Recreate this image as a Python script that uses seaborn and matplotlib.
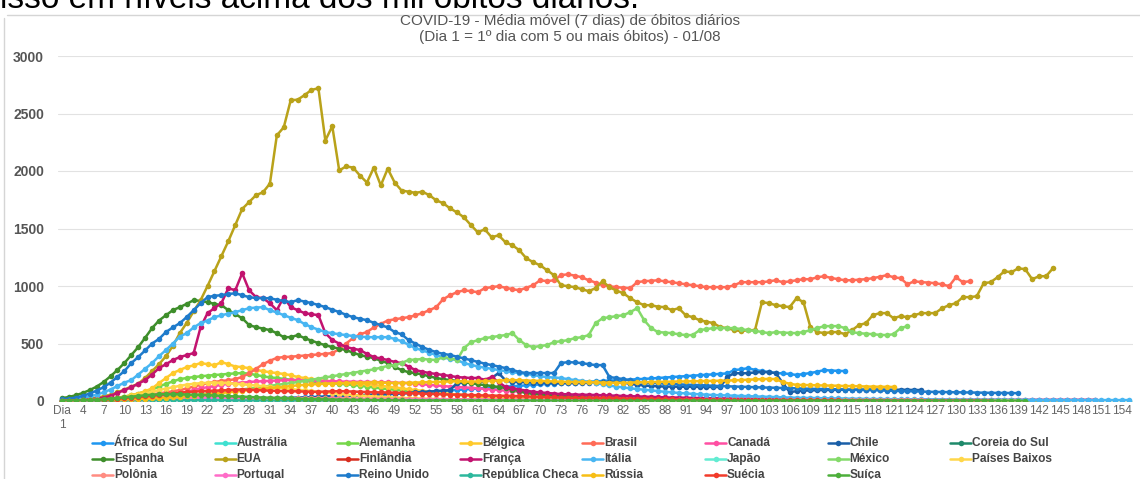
import pandas as pd
import matplotlib.pyplot as plt
import seaborn as sns
from matplotlib.lines import Line2D

# Dados (média móvel 7 dias de óbitos, por dia desde o 1º dia com 5+ óbitos)
paises = ['África do Sul', 'Austrália', 'Alemanha', 'Bélgica', 'Brasil', 'Canadá', 'Chile', 'Coreia do Sul',
          'Espanha', 'EUA', 'Finlândia', 'França', 'Itália', 'Japão', 'México', 'Países Baixos',
          'Polônia', 'Portugal', 'Reino Unido', 'República Checa', 'Rússia', 'Suécia', 'Suíça']

cores = ['#1E96F0', '#3FE0D0', '#76D74B', '#FFCA2C', '#FF6B57', '#FF4FA3', '#1A5FA8', '#1F8A6B',
         '#3E8E2B', '#B9A21A', '#D82D1F', '#C2136F', '#48B6F2', '#63ECD2', '#84DA6A', '#FFD74A',
         '#FF8C82', '#FF6CC8', '#1E7BCB', '#2DB89D', '#F7BE16', '#F23B2B', '#4DAF3B']

africa_do_sul = [2, 2, 3, 3, 3, 4, 4, 5, 5, 6,
                 6, 7, 7, 8, 9, 9, 10, 11, 12, 12,
                 13, 14, 15, 16, 17, 18, 19, 20, 21, 22,
                 24, 25, 27, 28, 30, 32, 34, 36, 38, 40,
                 42, 45, 47, 50, 52, 55, 58, 60, 63, 66,
                 70, 73, 76, 80, 84, 88, 92, 96, 100, 104,
                 108, 112, 116, 120, 124, 128, 132, 136, 140, 144,
                 148, 150, 154, 158, 160, 164, 168, 170, 174, 178,
                 180, 184, 186, 190, 192, 196, 200, 204, 208, 212,
                 216, 220, 224, 228, 232, 236, 240, 269, 275, 286,
                 270, 260, 252, 243, 240, 235, 226, 235, 243, 255,
                 269, 265, 262, 260]

australia = [1, 1, 1, 1, 2, 2, 2, 2, 2, 3,
             3, 3, 3, 4, 4, 4, 4, 4, 3, 3,
             3, 3, 3, 2, 2, 2, 2, 2, 2, 1,
             1, 1, 1, 1, 1, 1, 1, 1, 1, 1,
             1, 1, 1, 1, 1, 0, 0, 0, 0, 0,
             0, 0, 0, 0, 0, 0, 0, 0, 0, 0,
             0, 0, 0, 0, 0, 0, 0, 0, 0, 0,
             0, 0, 0, 0, 0, 0, 0, 0, 0, 0,
             0, 0, 0, 0, 0, 0, 0, 0, 0, 0,
             1, 1, 1, 1, 1, 1, 1, 1, 1, 1,
             1, 1, 2, 2, 2, 2, 3, 3, 3, 4,
             4, 5, 5, 6, 6, 7, 7, 8, 8, 9,
             9, 10, 10, 11, 11]

alemanha = [3, 4, 5, 6, 8, 10, 14, 20, 28, 38,
            50, 65, 82, 100, 125, 150, 170, 190, 200, 208,
            215, 220, 226, 230, 236, 240, 243, 238, 226, 215,
            205, 200, 192, 186, 182, 175, 170, 165, 160, 155,
            150, 145, 140, 132, 125, 118, 110, 104, 98, 92,
            86, 80, 75, 70, 66, 62, 58, 54, 50, 46,
            42, 40, 38, 36, 34, 32, 30, 28, 26, 24,
            22, 21, 20, 19, 18, 17, 16, 15, 14, 13,
            12, 12, 11, 11, 10, 10, 9, 9, 8, 8,
            8, 7, 7, 7, 6, 6, 6, 6, 5, 5,
            5, 5, 5, 5, 4, 4, 4, 4, 4, 4,
            4, 4, 4, 4, 4, 3, 3, 3, 3, 3,
            3, 3, 3, 3, 3, 3, 3, 3, 3, 3,
            3, 3, 3, 3, 3, 3, 3, 3, 3, 3,
            3, 3, 3]

belgica = [2, 3, 4, 5, 7, 10, 14, 20, 28, 38,
           50, 65, 85, 110, 156, 200, 243, 270, 295, 310,
           330, 320, 310, 338, 320, 300, 295, 285, 269, 260,
           250, 243, 235, 225, 208, 200, 190, 182, 175, 170,
           165, 160, 156, 150, 145, 140, 132, 125, 118, 110,
           102, 95, 88, 80, 74, 68, 62, 56, 50, 45,
           40, 36, 32, 29, 26, 24, 22, 20, 18, 16,
           15, 14, 13, 12, 11, 10, 9, 9, 8, 8,
           7, 7, 6, 6, 6, 5, 5, 5, 5, 4,
           4, 4, 4, 4, 4, 4, 4, 4, 4, 4,
           4, 4, 4, 4, 4, 4, 4, 4, 4, 4,
           3, 3, 3, 3, 3, 3, 3, 3, 3, 3,
           3, 3, 3, 3, 3, 3, 3, 3, 3, 3,
           3, 3, 3, 3, 3, 3, 3, 3, 3, 3]

brasil = [3, 4, 6, 8, 10, 13, 16, 20, 25, 30,
          36, 42, 50, 58, 66, 75, 85, 95, 110, 125,
          140, 155, 165, 175, 180, 190, 210, 240, 280, 320,
          350, 375, 382, 385, 390, 395, 400, 405, 410, 417,
          450, 500, 547, 580, 600, 640, 670, 700, 710, 720,
          729, 745, 764, 790, 816, 885, 920, 946, 963, 955,
          946, 981, 990, 998, 985, 972, 963, 985, 1007, 1050,
          1042, 1050, 1094, 1102, 1090, 1076, 1050, 1030, 1007, 998,
          990, 985, 981, 1033, 1042, 1045, 1050, 1040, 1033, 1024,
          1015, 1007, 998, 990, 990, 990, 990, 1007, 1033, 1033,
          1033, 1033, 1040, 1050, 1033, 1040, 1050, 1059, 1059, 1076,
          1085, 1070, 1059, 1050, 1050, 1055, 1059, 1068, 1080, 1094,
          1076, 1068, 1015, 1042, 1033, 1030, 1024, 1015, 998, 1076,
          1033, 1042]

canada = [2, 3, 4, 5, 6, 8, 10, 12, 15, 18,
          22, 26, 30, 35, 42, 50, 60, 70, 80, 95,
          110, 120, 130, 140, 150, 156, 160, 165, 170, 172,
          175, 178, 180, 182, 180, 178, 176, 175, 174, 172,
          170, 168, 168, 166, 165, 165, 163, 162, 160, 158,
          155, 150, 145, 140, 135, 130, 125, 122, 118, 115,
          110, 105, 100, 95, 90, 85, 80, 76, 72, 68,
          64, 60, 56, 52, 48, 45, 42, 40, 37, 35,
          32, 30, 28, 26, 24, 22, 20, 18, 17, 16,
          15, 14, 13, 12, 12, 11, 10, 10, 9, 9,
          8, 8, 8, 7, 7, 7, 6, 6, 6, 6,
          6, 5, 5, 5, 5, 5, 5, 5, 4, 4,
          4, 4, 4, 4, 4, 4, 4, 4, 4, 4,
          4, 4]

chile = [1, 1, 2, 2, 2, 3, 3, 3, 4, 4,
         5, 5, 6, 6, 7, 7, 8, 8, 9, 10,
         10, 11, 12, 12, 13, 14, 15, 16, 17, 18,
         20, 22, 24, 26, 28, 30, 32, 35, 38, 40,
         42, 45, 48, 50, 52, 55, 58, 60, 63, 66,
         70, 74, 78, 82, 86, 90, 95, 156, 158, 160,
         165, 170, 200, 243, 180, 165, 165, 162, 160, 160,
         158, 158, 156, 155, 155, 156, 158, 160, 162, 165,
         165, 160, 150, 140, 135, 130, 128, 125, 125, 124,
         124, 123, 123, 122, 122, 121, 208, 243, 240, 243,
         248, 252, 250, 243, 156, 78, 85, 90, 92, 94,
         95, 96, 97, 98, 98, 99, 100, 100, 100, 99,
         98, 98, 97, 96, 95]

coreia_do_sul = [1, 1, 2, 2, 3, 3, 4, 4, 5, 5,
                 5, 6, 6, 6, 6, 7, 7, 6, 6, 6,
                 5, 5, 5, 5, 5, 4, 4, 4, 4, 4,
                 4, 4, 4, 4, 4, 3, 3, 3, 3, 3,
                 3, 3, 3, 3, 3, 2, 2, 2, 2, 2,
                 2, 2, 2, 2, 2, 2, 2, 1, 1, 1,
                 1, 1, 1, 1, 1, 1, 1, 1, 1, 1,
                 1, 1, 1, 1, 1, 1, 1, 1, 1, 1,
                 1, 1, 1, 1, 1, 1, 1, 1, 1, 1,
                 1, 1, 1, 1, 1, 1, 1, 1, 1, 1,
                 1, 1, 1, 1, 1, 1, 1, 1, 1, 1,
                 1, 1, 1, 1, 1, 1, 1, 1, 1, 1,
                 1, 1, 1, 1, 1, 1, 1, 1, 1, 1,
                 1, 1, 1, 1, 1, 1, 1, 1, 1, 1,
                 1, 1, 1, 2, 2, 2, 3, 3, 2, 2,
                 1, 1, 1, 1, 1]

espanha = [25, 35, 50, 70, 95, 125, 165, 215, 270, 330,
           400, 469, 550, 634, 700, 746, 790, 816, 845, 877,
           870, 859, 845, 833, 790, 755, 720, 660, 642, 630,
           616, 590, 555, 555, 573, 547, 525, 503, 485, 469,
           455, 443, 420, 400, 385, 373, 350, 330, 295, 270,
           250, 243, 230, 215, 200, 190, 182, 175, 165, 155,
           145, 139, 130, 122, 113, 100, 85, 69, 62, 57,
           52, 48, 44, 40, 36, 32, 28, 25, 22, 20,
           18, 16, 14, 12, 10, 9, 8, 7, 6, 5,
           5, 4, 4, 4, 3, 3, 3, 3, 3, 3,
           3, 3, 3, 4, 4, 4, 5, 5, 5, 4,
           4, 4, 3, 3, 3, 3, 3, 3, 3, 3,
           3, 3, 3, 3, 3, 3, 3, 3, 3, 3,
           3, 3, 3, 3, 3, 3, 3, 3, 3, 3,
           3, 3, 3, 3, 3, 3]

eua = [8, 10, 13, 17, 22, 30, 40, 55, 75, 100,
       125, 150, 200, 260, 320, 390, 480, 590, 680, 780,
       877, 1000, 1130, 1260, 1390, 1530, 1670, 1730, 1790, 1815,
       1890, 2310, 2380, 2615, 2620, 2660, 2705, 2720, 2265, 2390,
       2005, 2040, 2030, 1960, 1900, 2030, 1875, 2020, 1900, 1830,
       1820, 1810, 1820, 1790, 1745, 1720, 1675, 1640, 1597, 1530,
       1467, 1493, 1424, 1441, 1380, 1354, 1311, 1241, 1207, 1180,
       1137, 1094, 1007, 998, 990, 972, 955, 981, 1042, 990,
       960, 937, 894, 859, 833, 833, 820, 816, 790, 807,
       746, 729, 703, 690, 677, 642, 634, 616, 608, 616,
       616, 859, 851, 833, 825, 816, 894, 859, 642, 600,
       590, 599, 599, 581, 616, 660, 677, 746, 764, 764,
       720, 738, 729, 746, 764, 764, 764, 807, 833, 851,
       903, 903, 911, 1024, 1033, 1076, 1128, 1120, 1154, 1146,
       1059, 1085, 1085, 1154]

finlandia = [1, 1, 1, 2, 2, 2, 2, 3, 3, 3,
             3, 4, 4, 4, 5, 5, 5, 6, 6, 6,
             6, 7, 7, 7, 6, 6, 6, 5, 5, 5,
             5, 4, 4, 4, 4, 3, 3, 3, 3, 3,
             2, 2, 2, 2, 2, 2, 2, 1, 1, 1,
             1, 1, 1, 1, 1, 1, 1, 1, 1, 1,
             1, 1, 1, 1, 1, 0, 0, 0, 0, 0,
             0, 0, 0, 0, 0, 0, 0, 0, 0, 0,
             0, 0, 0, 0, 0, 0, 0, 0, 0, 0,
             0, 0, 0, 0, 0, 0, 0, 0, 0, 0,
             0, 0, 0, 0, 0, 0, 0, 0, 0, 0,
             0, 0, 0, 0, 0, 0, 0, 0, 0, 0,
             0, 0, 0, 0, 0]

franca = [5, 6, 8, 10, 14, 20, 30, 45, 70, 95,
          120, 150, 182, 230, 286, 320, 356, 382, 400, 417,
          642, 764, 807, 851, 981, 963, 1111, 963, 903, 894,
          850, 790, 903, 816, 790, 764, 755, 746, 590, 530,
          500, 469, 455, 443, 410, 382, 370, 356, 340, 330,
          300, 269, 255, 243, 235, 226, 218, 208, 204, 200,
          200, 185, 208, 165, 122, 113, 100, 90, 80, 75,
          70, 65, 60, 58, 56, 55, 54, 52, 50, 48,
          46, 44, 42, 40, 38, 36, 34, 32, 30, 30,
          28, 27, 26, 25, 24, 23, 22, 21, 20, 20,
          19, 18, 18, 17, 17, 16, 16, 15, 15, 15,
          14, 14, 14, 13, 13, 13, 12, 12, 12, 12,
          11, 11, 11, 11, 10, 10, 10, 10, 10, 10,
          10, 10, 10, 10, 10, 10, 10, 10, 10, 10,
          10, 10, 10, 10, 10, 10, 10, 10, 10, 10]

italia = [8, 12, 18, 28, 40, 55, 75, 100, 130, 160,
          182, 230, 280, 330, 390, 443, 500, 560, 590, 640,
          677, 700, 729, 745, 760, 773, 790, 807, 812, 816,
          790, 770, 746, 725, 703, 670, 642, 620, 599, 590,
          580, 573, 565, 560, 555, 555, 555, 555, 540, 520,
          490, 460, 440, 420, 400, 380, 365, 356, 330, 315,
          300, 290, 280, 269, 260, 250, 243, 235, 226, 215,
          208, 204, 200, 190, 182, 175, 165, 155, 145, 135,
          125, 118, 110, 104, 98, 92, 86, 80, 75, 70,
          66, 62, 58, 55, 52, 50, 48, 46, 44, 42,
          40, 38, 36, 34, 32, 30, 28, 27, 26, 25,
          24, 23, 22, 21, 20, 19, 18, 17, 17, 16,
          16, 15, 15, 14, 14, 13, 13, 12, 12, 12,
          11, 11, 11, 10, 10, 10, 10, 9, 9, 9,
          9, 9, 8, 8, 8, 8, 8, 8, 8, 8,
          8, 8, 8, 8, 8]

japao = [1, 1, 1, 2, 2, 2, 3, 3, 3, 4,
         4, 5, 5, 6, 7, 8, 9, 10, 11, 12,
         13, 14, 15, 16, 17, 18, 18, 17, 16, 15,
         14, 13, 12, 11, 10, 9, 8, 7, 6, 5,
         5, 4, 4, 3, 3, 3, 2, 2, 2, 2,
         1, 1, 1, 1, 1, 1, 1, 1, 1, 1,
         1, 1, 1, 1, 1, 1, 1, 1, 1, 1,
         1, 1, 1, 1, 1, 1, 1, 1, 1, 1,
         1, 1, 1, 1, 1, 1, 1, 1, 1, 1,
         1, 1, 1, 1, 1, 1, 1, 1, 1, 1,
         1, 1, 1, 1, 1, 1, 1, 1, 1, 1,
         1, 1, 1, 1, 1, 1, 1, 1, 1, 1,
         1, 1, 1, 1, 1, 1, 1, 1, 1, 1]

mexico = [4, 5, 6, 7, 8, 10, 12, 14, 16, 18,
          20, 23, 26, 30, 34, 38, 42, 46, 50, 55,
          60, 66, 72, 78, 85, 92, 100, 108, 116, 124,
          132, 140, 148, 156, 165, 175, 185, 195, 205, 215,
          225, 235, 245, 255, 265, 275, 290, 305, 312, 330,
          356, 360, 365, 360, 356, 382, 373, 356, 460, 510,
          529, 547, 555, 565, 573, 590, 529, 486, 469, 478,
          486, 512, 520, 529, 547, 555, 573, 677, 720, 729,
          738, 746, 773, 807, 703, 634, 599, 595, 590, 580,
          573, 573, 616, 625, 634, 634, 634, 634, 625, 616,
          610, 600, 590, 599, 595, 592, 590, 600, 616, 634,
          651, 651, 651, 634, 599, 590, 585, 581, 575, 573,
          581, 634, 651]

paises_baixos = [2, 3, 4, 5, 7, 9, 12, 16, 22, 30,
                 40, 52, 65, 80, 95, 108, 120, 132, 142, 150,
                 155, 158, 160, 158, 155, 150, 145, 140, 135, 128,
                 122, 116, 110, 104, 98, 92, 86, 80, 74, 68,
                 62, 57, 52, 48, 44, 40, 36, 33, 30, 27,
                 25, 23, 21, 19, 17, 16, 15, 14, 13, 12,
                 11, 10, 10, 9, 9, 8, 8, 7, 7, 6,
                 6, 5, 5, 5, 4, 4, 4, 4, 3, 3,
                 3, 3, 3, 3, 3, 2, 2, 2, 2, 2,
                 2, 2, 2, 2, 2, 2, 2, 2, 2, 2,
                 2, 2, 2, 2, 2, 2, 2, 2, 2, 2,
                 2, 2, 2, 2, 2, 2, 2, 2, 2, 2,
                 2, 2, 2, 2, 2, 2, 2, 2, 2, 2,
                 2, 2, 2, 2, 2, 2, 2, 2, 2]

polonia = [2, 2, 3, 3, 4, 5, 6, 7, 8, 10,
           12, 14, 16, 18, 20, 22, 24, 25, 26, 27,
           28, 28, 29, 29, 30, 30, 29, 28, 28, 27,
           27, 26, 26, 25, 25, 24, 24, 23, 23, 22,
           22, 22, 21, 21, 20, 20, 19, 19, 18, 18,
           18, 17, 17, 16, 16, 16, 15, 15, 15, 14,
           14, 14, 14, 13, 13, 13, 13, 12, 12, 12,
           12, 12, 11, 11, 11, 11, 11, 10, 10, 10,
           10, 10, 10, 10, 9, 9, 9, 9, 9, 9,
           9, 9, 9, 9, 8, 8, 8, 8, 8, 8,
           8, 8, 8, 8, 8, 8, 8, 8, 8, 8,
           8, 8, 8, 8, 8, 8, 8, 8, 8, 8,
           8, 8, 8, 8, 8]

portugal = [2, 3, 4, 5, 7, 9, 11, 14, 17, 20,
            23, 26, 28, 30, 31, 32, 33, 33, 32, 31,
            30, 29, 28, 27, 26, 25, 24, 23, 22, 21,
            20, 19, 18, 18, 17, 16, 16, 15, 15, 14,
            14, 13, 13, 13, 12, 12, 12, 11, 11, 11,
            10, 10, 10, 10, 10, 9, 9, 9, 9, 9,
            8, 8, 8, 8, 8, 7, 7, 7, 7, 7,
            6, 6, 6, 6, 6, 6, 5, 5, 5, 5,
            5, 5, 5, 5, 5, 5, 5, 5, 5, 5,
            5, 5, 5, 5, 5, 5, 5, 5, 5, 5,
            4, 4, 4, 4, 4, 4, 4, 4, 4, 4,
            4, 4, 4, 4, 4, 4, 4, 4, 4, 4,
            4, 4, 4, 4, 4, 4, 4, 4, 4, 4,
            4, 4, 4]

reino_unido = [15, 20, 30, 45, 65, 90, 120, 160, 210, 260,
               330, 382, 440, 500, 540, 600, 640, 677, 730, 790,
               850, 903, 915, 920, 930, 937, 920, 903, 895, 894,
               894, 880, 870, 859, 877, 865, 851, 835, 816, 795,
               773, 750, 729, 715, 703, 680, 660, 640, 600, 580,
               530, 500, 469, 445, 425, 410, 400, 385, 370, 356,
               340, 325, 312, 300, 286, 270, 252, 243, 243, 243,
               243, 243, 330, 338, 335, 330, 320, 312, 312, 208,
               200, 190, 180, 165, 160, 156, 156, 150, 148, 145,
               142, 140, 138, 135, 132, 130, 128, 126, 124, 122,
               120, 118, 116, 115, 113, 112, 110, 108, 106, 105,
               104, 103, 102, 100, 98, 96, 95, 94, 92, 90,
               88, 86, 85, 84, 82, 80, 79, 78, 77, 76,
               75, 74, 73, 72, 71, 70, 70, 69, 68]

republica_checa = [1, 1, 2, 2, 2, 3, 3, 3, 4, 4,
                   5, 5, 6, 6, 6, 7, 7, 7, 6, 6,
                   6, 5, 5, 5, 4, 4, 4, 3, 3, 3,
                   3, 3, 2, 2, 2, 2, 2, 2, 2, 2,
                   1, 1, 1, 1, 1, 1, 1, 1, 1, 1,
                   1, 1, 1, 1, 1, 1, 1, 1, 1, 1,
                   1, 1, 1, 1, 1, 1, 1, 1, 1, 1,
                   1, 1, 1, 1, 1, 1, 1, 1, 1, 1,
                   1, 1, 1, 1, 1, 1, 1, 1, 1, 1,
                   1, 1, 1, 1, 1, 1, 1, 1, 1, 1,
                   1, 1, 1, 1, 1, 1, 1, 1, 1, 1,
                   1, 1, 1, 1, 1, 1, 1, 1, 1, 1]

russia = [2, 3, 4, 5, 6, 7, 8, 10, 12, 14,
          16, 18, 20, 23, 26, 30, 34, 38, 42, 47,
          52, 58, 64, 70, 76, 82, 88, 94, 100, 106,
          112, 118, 124, 130, 136, 140, 144, 148, 150, 152,
          154, 156, 158, 160, 160, 162, 160, 158, 156, 156,
          158, 160, 162, 165, 165, 168, 170, 172, 170, 168,
          170, 172, 175, 178, 180, 182, 180, 178, 176, 175,
          172, 170, 168, 166, 165, 165, 163, 162, 160, 160,
          158, 158, 160, 162, 164, 165, 166, 168, 168, 170,
          170, 172, 172, 174, 175, 176, 178, 180, 182, 185,
          188, 190, 192, 190, 165, 150, 140, 139, 138, 136,
          135, 134, 132, 130, 130, 128, 126, 125, 124, 123,
          122]

suecia = [2, 3, 4, 6, 8, 10, 13, 16, 20, 25,
          30, 35, 40, 45, 52, 58, 65, 72, 78, 82,
          85, 88, 90, 92, 95, 98, 100, 98, 95, 92,
          90, 88, 86, 85, 84, 82, 80, 80, 82, 84,
          85, 84, 82, 80, 78, 76, 75, 74, 72, 70,
          68, 66, 64, 62, 60, 58, 56, 55, 54, 52,
          50, 48, 47, 46, 45, 44, 42, 40, 38, 36,
          34, 32, 30, 29, 28, 27, 26, 25, 24, 23,
          22, 21, 20, 19, 18, 17, 16, 15, 14, 13,
          12, 12, 11, 11, 10, 10, 9, 9, 8, 8,
          8, 7, 7, 7, 6, 6, 6, 6, 5, 5,
          5, 5, 5, 4, 4, 4, 4, 4, 4, 3,
          3, 3, 3, 3, 3, 3, 3, 3, 3, 3,
          3, 3, 3, 3, 3]

suica = [2, 3, 4, 6, 8, 11, 15, 20, 26, 32,
         38, 44, 50, 55, 58, 60, 60, 58, 56, 54,
         52, 50, 48, 45, 42, 40, 38, 35, 32, 30,
         28, 26, 24, 22, 20, 18, 16, 15, 14, 13,
         12, 11, 10, 9, 8, 7, 6, 6, 5, 5,
         4, 4, 4, 3, 3, 3, 3, 2, 2, 2,
         2, 2, 2, 2, 2, 1, 1, 1, 1, 1,
         1, 1, 1, 1, 1, 1, 1, 1, 1, 1,
         1, 1, 1, 1, 1, 1, 1, 1, 1, 1,
         1, 1, 1, 1, 1, 1, 1, 1, 1, 1,
         1, 1, 1, 1, 1, 1, 1, 1, 1, 1,
         1, 1, 1, 1, 1, 1, 1, 1, 1, 1,
         1, 1, 1, 1, 1, 1, 1, 1, 1, 1,
         1, 1, 1, 1, 1, 1, 1, 1, 1, 1]

series = [africa_do_sul, australia, alemanha, belgica, brasil, canada, chile, coreia_do_sul,
          espanha, eua, finlandia, franca, italia, japao, mexico, paises_baixos,
          polonia, portugal, reino_unido, republica_checa, russia, suecia, suica]

dias_ticks = list(range(1, 155, 3))
rotulos_x = ['Dia\n1'] + [str(d) for d in dias_ticks[1:]]

# Tabela longa para o seaborn
linhas = []
for pais, valores in zip(paises, series):
    for i, v in enumerate(valores):
        linhas.append({'pais': pais, 'dia': i + 1, 'obitos': v})
df = pd.DataFrame(linhas)

sns.set_style('white')
plt.rcParams['font.family'] = ['Liberation Sans', 'DejaVu Sans']

W, H = 1140, 479
fig = plt.figure(figsize=(W / 100, H / 100), dpi=100)
ax = fig.add_axes([58 / W, (H - 401) / H, (1133 - 58) / W, (401 - 56) / H])

sns.lineplot(data=df, x='dia', y='obitos', hue='pais', hue_order=paises,
             palette=dict(zip(paises, cores)), marker='o', markersize=4,
             markeredgewidth=0, linewidth=1.8, legend=False, ax=ax)

ax.set_xlim(0.42, 155.55)
ax.set_ylim(0, 3000)
ax.set_yticks(range(0, 3001, 500))
ax.set_yticklabels([str(v) for v in range(0, 3001, 500)], fontsize=10,
                   fontweight='bold', color='#555555')
ax.set_xticks(dias_ticks)
ax.set_xticklabels(rotulos_x, fontsize=8.6, color='#666666', multialignment='center')
ax.tick_params(axis='both', length=0)
ax.tick_params(axis='y', pad=10)
ax.tick_params(axis='x', pad=3)
ax.set_xlabel('')
ax.set_ylabel('')
ax.yaxis.grid(True, color='#e2e2e2', linewidth=0.8)
ax.xaxis.grid(False)
ax.set_axisbelow(True)
for s in ax.spines.values():
    s.set_visible(False)

# Títulos
fig.text(0.5, 1 - 21 / H, 'COVID-19 - Média móvel (7 dias) de óbitos diários',
         ha='center', va='center', fontsize=11, color='#555555')
fig.text(0.5, 1 - 37 / H, '(Dia 1 = 1º dia com 5 ou mais óbitos) - 01/08',
         ha='center', va='center', fontsize=11, color='#555555')

# Texto cortado no topo da imagem (só a parte de baixo aparece)
fig.text(0.0, 1 - 8 / H, 'isso em níveis acima dos mil óbitos diários.',
         ha='left', va='baseline', fontsize=24, color='black')

# Moldura do gráfico
fig.add_artist(Line2D([4 / W, 4 / W], [0, 1 - 18 / H], transform=fig.transFigure,
                      color='#d5d5d5', linewidth=1))
fig.add_artist(Line2D([7 / W, 1], [1 - 15 / H, 1 - 15 / H], transform=fig.transFigure,
                      color='#d5d5d5', linewidth=1))

# Legenda desenhada linha a linha (8 colunas de largura igual)
x0, passo = 92, 122.6
ys = [443, 459, 475]
for i, (pais, cor) in enumerate(zip(paises, cores)):
    lin, col = divmod(i, 8)
    x = x0 + col * passo
    y = ys[lin]
    fig.add_artist(Line2D([x / W, (x + 21) / W], [1 - y / H, 1 - y / H],
                          transform=fig.transFigure, color=cor, linewidth=1.8))
    fig.add_artist(Line2D([(x + 10.5) / W], [1 - y / H], transform=fig.transFigure,
                          color=cor, marker='o', markersize=4, markeredgewidth=0))
    fig.text((x + 22) / W, 1 - y / H, pais, ha='left', va='center',
             fontsize=8.6, fontweight='bold', color='#444444')

fig.savefig('out.png', dpi=100)
